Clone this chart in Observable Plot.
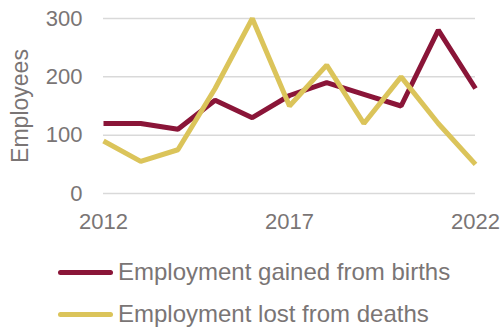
<!DOCTYPE html>
<html>
<head>
<meta charset="utf-8">
<script src="https://cdn.jsdelivr.net/npm/d3@7"></script>
<script src="https://cdn.jsdelivr.net/npm/@observablehq/plot@0.6"></script>
<style>
  body { margin: 0; background: #fff; font-family: "Liberation Sans", Arial, sans-serif; }
  #wrap { position: relative; width: 504px; height: 328px; overflow: hidden; }
  #legend { position: absolute; left: 58px; top: 0; }
  .item { position: absolute; left: 0; white-space: nowrap; display: flex; align-items: center;
          font-size: 24px; line-height: 26px; color: #7a7575; }
  .sw { width: 55px; height: 5px; border-radius: 3px; margin-right: 5px; }
</style>
</head>
<body>
<div id="wrap"></div>
<script>
const years = [2012, 2013, 2014, 2015, 2016, 2017, 2018, 2019, 2020, 2021, 2022];
const births = [120, 120, 110, 160, 130, 168, 190, 170, 150, 280, 180];
const deaths = [90, 55, 75, 180, 300, 150, 220, 120, 200, 120, 50];
const seriesNames = ["Employment gained from births", "Employment lost from deaths"];
const seriesColors = ["#8a1538", "#dbc45a"];
const yTicks = [0, 100, 200, 300];
const xTicks = [2012, 2017, 2022];

const rows = [];
years.forEach((y, i) => {
  rows.push({year: y, value: births[i], series: seriesNames[0]});
  rows.push({year: y, value: deaths[i], series: seriesNames[1]});
});

const textColor = "#7a7575";
const chart = Plot.plot({
  width: 504,
  height: 240,
  marginTop: 18,
  marginBottom: 47,
  marginLeft: 103,
  marginRight: 29,
  style: {fontFamily: "Liberation Sans, Arial, sans-serif", fontSize: "22px", color: textColor, background: "#fff"},
  x: {domain: [2012, 2022], ticks: xTicks, tickFormat: d => String(d)},
  y: {domain: [0, 300], ticks: yTicks},
  color: {domain: seriesNames, range: seriesColors},
  marks: [
    Plot.gridY(yTicks, {stroke: "#d9d9d9", strokeOpacity: 1, strokeWidth: 1.5}),
    Plot.axisY({ticks: yTicks, tickSize: 0, tickPadding: 21, label: null, fill: textColor, fontSize: 22}),
    Plot.text(["Employees"], {frameAnchor: "left", textAnchor: "middle", dx: -83, rotate: -90, fill: textColor, fontSize: 23}),
    Plot.axisX({ticks: xTicks, tickSize: 0, tickPadding: 20, label: null, fill: textColor, fontSize: 22, tickFormat: d => String(d)}),
    Plot.line(rows, {x: "year", y: "value", z: "series", stroke: "series", strokeWidth: 5, strokeLinejoin: "miter", strokeLinecap: "butt"})
  ]
});
const wrap = document.getElementById("wrap");
wrap.appendChild(chart);

const legend = document.createElement("div");
legend.id = "legend";
const centers = [272, 314];
seriesNames.forEach((name, i) => {
  const it = document.createElement("div");
  it.className = "item";
  it.style.top = (centers[i] - 13) + "px";
  it.style.height = "26px";
  const sw = document.createElement("span");
  sw.className = "sw";
  sw.style.background = seriesColors[i];
  const t = document.createElement("span");
  t.textContent = name;
  it.appendChild(sw);
  it.appendChild(t);
  legend.appendChild(it);
});
wrap.appendChild(legend);
</script>
</body>
</html>
